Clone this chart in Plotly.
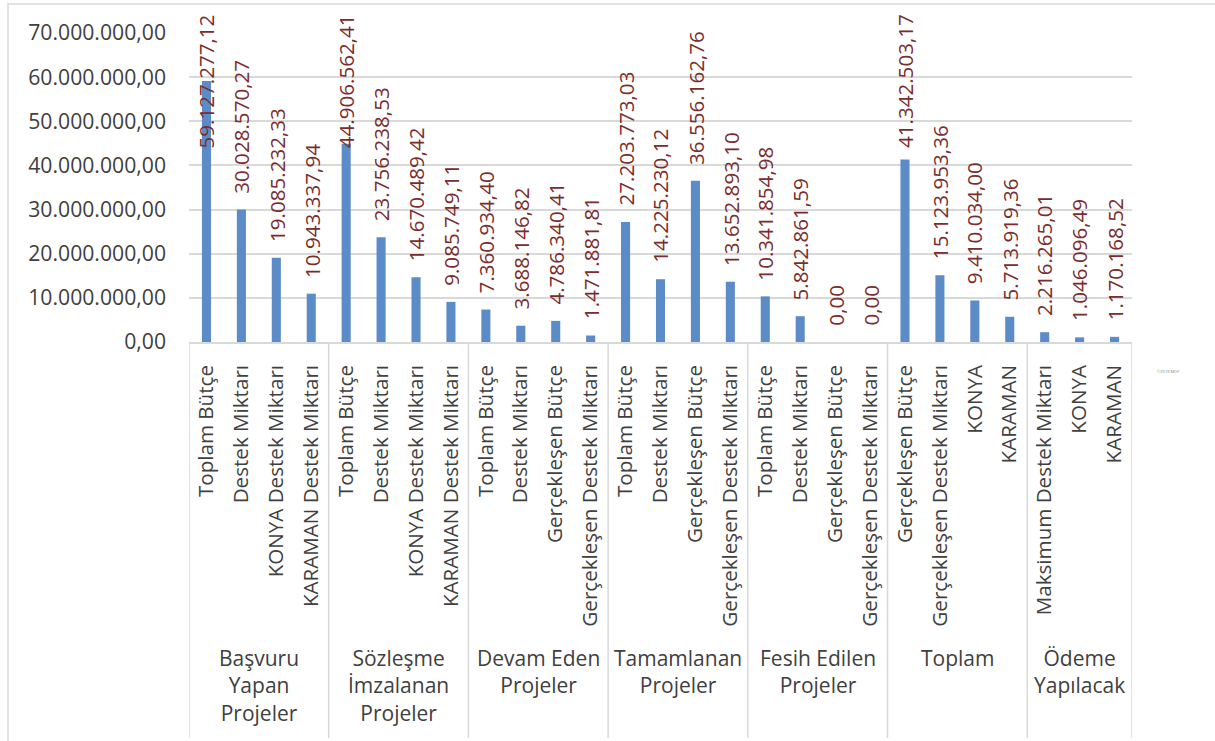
import plotly.graph_objects as go

# Proje durumlarına göre bütçe ve destek tutarları (TL)
groups = [
    "Başvuru<br>Yapan<br>Projeler",
    "Sözleşme<br>İmzalanan<br>Projeler",
    "Devam Eden<br>Projeler",
    "Tamamlanan<br>Projeler",
    "Fesih Edilen<br>Projeler",
    "Toplam",
    "Ödeme<br>Yapılacak",
]

basvuru_labels = ["Toplam Bütçe", "Destek Miktarı", "KONYA Destek Miktarı", "KARAMAN Destek Miktarı"]
basvuru_values = [59127277.12, 30028570.27, 19085232.33, 10943337.94]

sozlesme_labels = ["Toplam Bütçe", "Destek Miktarı", "KONYA Destek Miktarı", "KARAMAN Destek Miktarı"]
sozlesme_values = [44906562.41, 23756238.53, 14670489.42, 9085749.11]

devam_labels = ["Toplam Bütçe", "Destek Miktarı", "Gerçekleşen Bütçe", "Gerçekleşen Destek Miktarı"]
devam_values = [7360934.40, 3688146.82, 4786340.41, 1471881.81]

tamamlanan_labels = ["Toplam Bütçe", "Destek Miktarı", "Gerçekleşen Bütçe", "Gerçekleşen Destek Miktarı"]
tamamlanan_values = [27203773.03, 14225230.12, 36556162.76, 13652893.10]

fesih_labels = ["Toplam Bütçe", "Destek Miktarı", "Gerçekleşen Bütçe", "Gerçekleşen Destek Miktarı"]
fesih_values = [10341854.98, 5842861.59, 0.00, 0.00]

toplam_labels = ["Gerçekleşen Bütçe", "Gerçekleşen Destek Miktarı", "KONYA", "KARAMAN"]
toplam_values = [41342503.17, 15123953.36, 9410034.00, 5713919.36]

odeme_labels = ["Maksimum Destek Miktarı", "KONYA", "KARAMAN"]
odeme_values = [2216265.01, 1046096.49, 1170168.52]

y_ticks = [0, 10e6, 20e6, 30e6, 40e6, 50e6, 60e6, 70e6]

label_sets = [basvuru_labels, sozlesme_labels, devam_labels, tamamlanan_labels,
              fesih_labels, toplam_labels, odeme_labels]
value_sets = [basvuru_values, sozlesme_values, devam_values, tamamlanan_values,
              fesih_values, toplam_values, odeme_values]

cat_labels = [l for ls in label_sets for l in ls]
values = [v for vs in value_sets for v in vs]
xs = list(range(len(values)))


def tr_number(v):
    s = f"{v:,.2f}"
    return s.replace(",", "X").replace(".", ",").replace("X", ".")


FONT = "Open Sans"
BAR = "#5b8cc8"
LABEL = "#7b2c2c"
GRID = "#d9d9d9"
TEXT = "#404040"

# pixel geometry of the plotting area
W, H = 1215, 741
L, R, T, B = 189, 1132, 33, 342
PW, PH = R - L, B - T


def px_x(p):
    return (p - L) / PW


def px_y(p):
    return (B - p) / PH


fig = go.Figure()
fig.add_trace(go.Bar(
    x=xs, y=values, width=0.26,
    marker=dict(color=BAR, line=dict(width=0)),
    hoverinfo="skip",
))

annotations = []
# value labels above bars; tall ones are held below the top of the chart
y_cap = 40.3e6
for x, v in zip(xs, values):
    annotations.append(dict(
        x=x, y=min(v, y_cap), xref="x", yref="y",
        text=tr_number(v), textangle=-90, showarrow=False,
        xanchor="center", yanchor="bottom", yshift=14,
        font=dict(family=FONT, size=20.6, color=LABEL),
    ))

# group labels beneath the category labels
start = 0
group_edges = [-0.5]
for g, ls in zip(groups, label_sets):
    n = len(ls)
    center = start + (n - 1) / 2
    annotations.append(dict(
        x=center, y=px_y(642), xref="x", yref="paper",
        text=g, showarrow=False, xanchor="center", yanchor="top",
        align="center", font=dict(family=FONT, size=21, color=TEXT),
    ))
    start += n
    group_edges.append(start - 0.5)

annotations.append(dict(
    x=px_x(1182), y=px_y(376), xref="paper", yref="paper",
    text="©2018 MDP", showarrow=False, font=dict(family=FONT, size=4, color="#8a8a8a"),
))

shapes = []
for e in group_edges:
    shapes.append(dict(
        type="line", xref="x", yref="paper", x0=e, x1=e,
        y0=0, y1=px_y(738), line=dict(color=GRID, width=1.5),
    ))
# outer chart frame
shapes.append(dict(
    type="rect", xref="paper", yref="paper",
    x0=px_x(8), x1=px_x(1240), y0=px_y(4), y1=px_y(760),
    line=dict(color=GRID, width=1.5), layer="below",
))

fig.update_layout(
    width=W, height=H,
    margin=dict(l=L, r=W - R, t=T, b=H - B, pad=0),
    paper_bgcolor="white", plot_bgcolor="white",
    separators=",.",
    showlegend=False,
    annotations=annotations,
    shapes=shapes,
    xaxis=dict(
        range=[-0.5, len(values) - 0.5],
        tickmode="array", tickvals=xs, ticktext=cat_labels,
        tickangle=-90, ticks="", showgrid=False, zeroline=False,
        showline=True, linecolor=GRID, linewidth=1.5,
        ticklabelstandoff=13,
        tickfont=dict(family=FONT, size=20.6, color=TEXT),
    ),
    yaxis=dict(
        range=[0, 70e6], tickmode="array", tickvals=y_ticks,
        tickformat=",.2f", showgrid=True, gridcolor=GRID, gridwidth=1.5,
        zeroline=False, showline=False, ticks="",
        ticklabelstandoff=22,
        tickfont=dict(family=FONT, size=21.2, color=TEXT),
    ),
)

fig.write_html("out.html")
